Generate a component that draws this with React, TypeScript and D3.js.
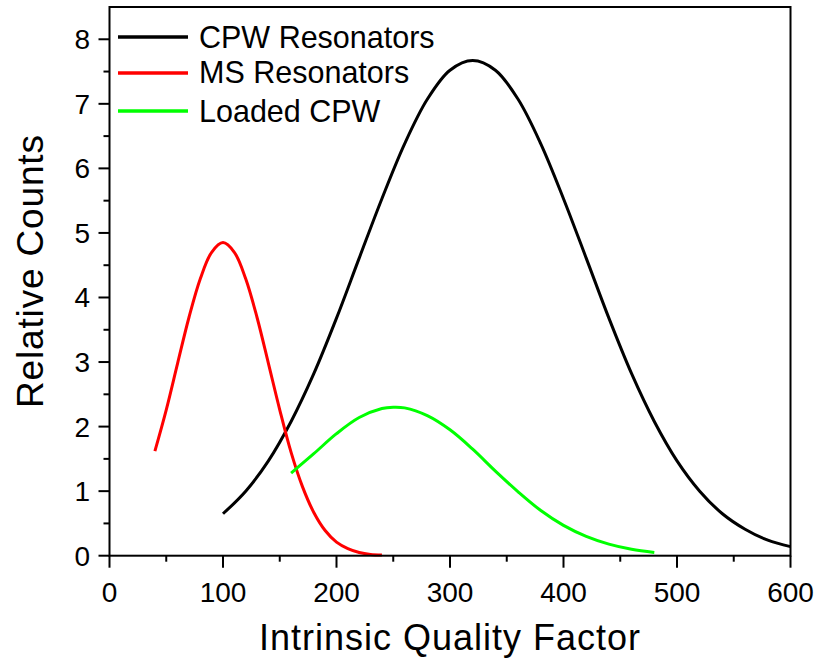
import React from "react";
import * as d3 from "d3";

const xTicks = [0, 100, 200, 300, 400, 500, 600];
const xMinorTicks = [50, 150, 250, 350, 450, 550];
const yTicks = [0, 1, 2, 3, 4, 5, 6, 7, 8];
const yMinorTicks = [0.5, 1.5, 2.5, 3.5, 4.5, 5.5, 6.5, 7.5];

const cpwX = [100, 120, 140, 160, 180, 200, 220, 240, 260, 280, 300, 320, 340, 360, 380, 400, 420, 440, 460, 480, 500, 520, 540, 560, 580, 600];
const cpwY = [0.65, 1.0, 1.47, 2.08, 2.82, 3.68, 4.61, 5.53, 6.38, 7.07, 7.52, 7.67, 7.52, 7.07, 6.38, 5.53, 4.61, 3.68, 2.82, 2.08, 1.47, 1.0, 0.65, 0.41, 0.24, 0.14];

const msX = [40, 50, 60, 70, 80, 90, 100, 110, 120, 130, 140, 150, 160, 170, 180, 190, 200, 210, 220, 230, 240];
const msY = [1.62, 2.26, 2.98, 3.69, 4.29, 4.70, 4.85, 4.70, 4.29, 3.69, 2.98, 2.26, 1.60, 1.07, 0.67, 0.39, 0.21, 0.11, 0.05, 0.02, 0.01];

const loadedX = [160, 180, 200, 220, 240, 250, 260, 280, 300, 320, 340, 360, 380, 400, 420, 440, 460, 480];
const loadedY = [1.28, 1.58, 1.89, 2.14, 2.28, 2.30, 2.29, 2.17, 1.95, 1.65, 1.31, 0.99, 0.70, 0.47, 0.30, 0.18, 0.10, 0.05];

const seriesNames = ["CPW Resonators", "MS Resonators", "Loaded CPW"];
const seriesColors = ["#000000", "#ff0000", "#00ff00"];

const FONT = "'Liberation Sans', Arial, sans-serif";

export default function App() {
  const x = d3.scaleLinear().domain([0, 600]).range([109.5, 790.5]);
  const y = d3.scaleLinear().domain([0, 8.5]).range([555.7, 7]);

  const line = d3
    .line<[number, number]>()
    .x((d) => x(d[0]))
    .y((d) => y(d[1]))
    .curve(d3.curveCatmullRom.alpha(0.5));

  const series = [
    { xs: cpwX, ys: cpwY },
    { xs: msX, ys: msY },
    { xs: loadedX, ys: loadedY },
  ];

  const [x0, x1] = x.range();
  const [y0, y1] = y.range();

  const legendY = [37, 73, 111];
  const legendBase = [48, 83, 121.5];

  return (
    <svg
      width={817}
      height={659}
      style={{ position: "absolute", left: 0, top: 0, background: "#fff" }}
      fontFamily={FONT}
    >
      <rect x={0} y={0} width={817} height={659} fill="#fff" />
      {series.map((s, i) => (
        <path
          key={i}
          d={line(s.xs.map((v, j) => [v, s.ys[j]] as [number, number])) || ""}
          fill="none"
          stroke={seriesColors[i]}
          strokeWidth={3}
          strokeLinejoin="round"
        />
      ))}
      <rect x={x0} y={y1} width={x1 - x0} height={y0 - y1} fill="none" stroke="#000" strokeWidth={2} />
      {xTicks.map((t) => (
        <g key={"xt" + t}>
          <line x1={x(t)} x2={x(t)} y1={y0} y2={y0 + 12} stroke="#000" strokeWidth={2} />
          <text x={x(t)} y={601.5} fontSize={28} textAnchor="middle" fill="#000">
            {t}
          </text>
        </g>
      ))}
      {xMinorTicks.map((t) => (
        <line key={"xm" + t} x1={x(t)} x2={x(t)} y1={y0} y2={y0 + 6} stroke="#000" strokeWidth={2} />
      ))}
      {yTicks.map((t) => (
        <g key={"yt" + t}>
          <line x1={x0 - 11} x2={x0} y1={y(t)} y2={y(t)} stroke="#000" strokeWidth={2} />
          <text x={90} y={y(t) + 10} fontSize={28} textAnchor="end" fill="#000">
            {t}
          </text>
        </g>
      ))}
      {yMinorTicks.map((t) => (
        <line key={"ym" + t} x1={x0 - 6} x2={x0} y1={y(t)} y2={y(t)} stroke="#000" strokeWidth={2} />
      ))}
      <text
        x={449.5}
        y={650}
        fontSize={36}
        textAnchor="middle"
        textLength={381}
        lengthAdjust="spacing"
        fill="#000"
      >
        Intrinsic Quality Factor
      </text>
      <text
        transform="translate(43,271.5) rotate(-90)"
        x={0}
        y={0}
        fontSize={37}
        textAnchor="middle"
        textLength={273}
        lengthAdjust="spacing"
        fill="#000"
      >
        Relative Counts
      </text>
      {seriesNames.map((n, i) => (
        <g key={n}>
          <line x1={118} x2={188} y1={legendY[i]} y2={legendY[i]} stroke={seriesColors[i]} strokeWidth={3.5} />
          <text x={199} y={legendBase[i]} fontSize={30.5} fill="#000">
            {n}
          </text>
        </g>
      ))}
    </svg>
  );
}
